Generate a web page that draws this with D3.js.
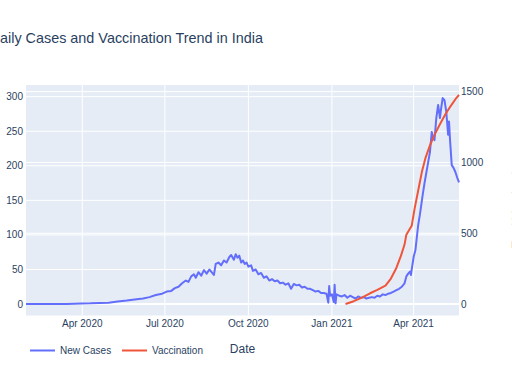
<!DOCTYPE html>
<html>
<head>
<meta charset="utf-8">
<script src="https://cdn.jsdelivr.net/npm/d3@7"></script>
<style>
  body { margin: 0; background: #fff; }
  text { font-family: "Liberation Sans", Arial, sans-serif; fill: #2a3f5f; }
</style>
</head>
<body>
<svg id="chart" width="512" height="384"></svg>
<script>
// new cases
var caseDates = ["2020-01-30","2020-02-15","2020-03-01","2020-03-15","2020-03-31","2020-04-10","2020-04-20","2020-04-30",
  "2020-05-10","2020-05-20","2020-05-31","2020-06-07","2020-06-14","2020-06-21","2020-06-28","2020-07-03","2020-07-08",
  "2020-07-12","2020-07-16","2020-07-20","2020-07-24","2020-07-27","2020-07-30","2020-08-02","2020-08-04","2020-08-07",
  "2020-08-10","2020-08-13","2020-08-16","2020-08-19","2020-08-21","2020-08-24","2020-08-26","2020-08-29","2020-09-01",
  "2020-09-04","2020-09-07","2020-09-10","2020-09-12","2020-09-15","2020-09-17","2020-09-19","2020-09-21","2020-09-23",
  "2020-09-25","2020-09-27","2020-09-29","2020-10-01","2020-10-04","2020-10-06","2020-10-09","2020-10-12","2020-10-15",
  "2020-10-18","2020-10-21","2020-10-24","2020-10-27","2020-10-30","2020-11-02","2020-11-05","2020-11-08","2020-11-11",
  "2020-11-14","2020-11-17","2020-11-20","2020-11-23","2020-11-26","2020-11-29","2020-12-02","2020-12-05","2020-12-08",
  "2020-12-11","2020-12-14","2020-12-17","2020-12-20","2020-12-23","2020-12-26","2020-12-28","2020-12-29","2020-12-30",
  "2021-01-01","2021-01-03","2021-01-04","2021-01-05","2021-01-06","2021-01-09","2021-01-12","2021-01-15","2021-01-18",
  "2021-01-21","2021-01-24","2021-01-27","2021-01-30","2021-02-02","2021-02-05","2021-02-08","2021-02-11","2021-02-14",
  "2021-02-17","2021-02-20","2021-02-23","2021-02-26","2021-03-01","2021-03-04","2021-03-07","2021-03-10","2021-03-13",
  "2021-03-16","2021-03-19","2021-03-22","2021-03-24","2021-03-26","2021-03-28","2021-03-29","2021-04-01","2021-04-03",
  "2021-04-06","2021-04-08","2021-04-11","2021-04-13","2021-04-15","2021-04-17","2021-04-19","2021-04-21","2021-04-22",
  "2021-04-24","2021-04-26","2021-04-28","2021-04-30","2021-05-01","2021-05-03","2021-05-05","2021-05-07","2021-05-09",
  "2021-05-10","2021-05-11","2021-05-13","2021-05-15","2021-05-17","2021-05-19","2021-05-21"];
var caseValues = [0,0,0,0.1,0.8,1,1.5,2,
  3.5,5,7,8,10,13,15,18,19,
  23,25,30,34,32,40,43,38,46,
  41,49,44,50,47,42,58,60,56,
  63,60,68,71,64,72,67,70,60,
  63,58,60,54,56,48,50,43,45,
  38,40,34,36,33,34,30,31,28,
  30,22,29,27,28,24,25,22,22,
  20,18,19,16,16,15,2,26,12,
  14,3,28,1,14,12,11,13,9,
  12,10,8,11,9,10,8,9,10,
  9,12,11,14,13,15,16,18,20,
  22,25,30,40,44,47,42,68,78,
  114,130,158,175,190,205,220,249,243,
  237,269,288,269,280,298,295,278,245,
  264,240,201,197,191,183,176];

// vaccination
var vaccDates = ["2021-01-16","2021-01-25","2021-02-03","2021-02-12","2021-02-20","2021-03-01","2021-03-07","2021-03-13",
  "2021-03-18","2021-03-22","2021-03-24","2021-03-30","2021-04-02","2021-04-06","2021-04-10","2021-04-14","2021-04-19",
  "2021-04-24","2021-04-30","2021-05-06","2021-05-12","2021-05-18","2021-05-21"];
var vaccValues = [0,20,45,76,100,130,180,255,
  340,420,490,555,670,800,930,1030,1120,
  1195,1270,1340,1400,1455,1478];

var leftTicks = [0,50,100,150,200,250,300];
var rightTicks = [0,500,1000,1500];

var parse = d3.timeParse("%Y-%m-%d");
var cases = caseDates.map(function(d, i) { return {date: parse(d), value: caseValues[i]}; });
var vacc = vaccDates.map(function(d, i) { return {date: parse(d), value: vaccValues[i]}; });

var svg = d3.select("#chart");
var m = {left: 26, right: 459, top: 85, bottom: 315.5};

var x = d3.scaleTime()
    .domain(d3.extent(cases.concat(vacc), function(d) { return d.date; }))
    .range([m.left, m.right]);
var y = d3.scaleLinear().domain([-16.6, 316.9]).range([m.bottom, m.top]);
var y2 = d3.scaleLinear().domain([-81, 1547]).range([m.bottom, m.top]);

svg.append("rect")
    .attr("x", m.left).attr("y", m.top)
    .attr("width", m.right - m.left).attr("height", m.bottom - m.top)
    .attr("fill", "#E5ECF6");

// grid lines
var xTicks = x.ticks(d3.timeMonth.every(3));
svg.append("g").selectAll("line").data(xTicks).join("line")
    .attr("x1", function(d) { return x(d); }).attr("x2", function(d) { return x(d); })
    .attr("y1", m.top).attr("y2", m.bottom)
    .attr("stroke", "#fff").attr("stroke-width", 1);
svg.append("g").selectAll("line").data(rightTicks.filter(function(d) { return d != 0; })).join("line")
    .attr("x1", m.left).attr("x2", m.right)
    .attr("y1", function(d) { return y2(d); }).attr("y2", function(d) { return y2(d); })
    .attr("stroke", "#fff").attr("stroke-width", 1);
svg.append("g").selectAll("line").data(leftTicks).join("line")
    .attr("x1", m.left).attr("x2", m.right)
    .attr("y1", function(d) { return y(d); }).attr("y2", function(d) { return y(d); })
    .attr("stroke", "#fff").attr("stroke-width", function(d) { return d == 0 ? 2 : 1; });

// tick labels
svg.append("g").selectAll("text").data(leftTicks).join("text")
    .attr("x", m.left - 3).attr("y", function(d) { return y(d); })
    .attr("dy", "0.35em").attr("text-anchor", "end")
    .attr("font-size", 10).text(function(d) { return d; });
svg.append("g").selectAll("text").data(rightTicks).join("text")
    .attr("x", m.right + 2).attr("y", function(d) { return y2(d); })
    .attr("dy", "0.35em").attr("text-anchor", "start")
    .attr("font-size", 10).text(function(d) { return d; });
svg.append("g").selectAll("text").data(xTicks).join("text")
    .attr("x", function(d) { return x(d); }).attr("y", 327)
    .attr("text-anchor", "middle")
    .attr("font-size", 10).text(d3.timeFormat("%b %Y"));

// lines
var caseLine = d3.line().x(function(d) { return x(d.date); }).y(function(d) { return y(d.value); });
var vaccLine = d3.line().x(function(d) { return x(d.date); }).y(function(d) { return y2(d.value); });
svg.append("path").datum(cases)
    .attr("d", caseLine).attr("fill", "none")
    .attr("stroke", "#636efa").attr("stroke-width", 2).attr("stroke-linejoin", "round");
svg.append("path").datum(vacc)
    .attr("d", vaccLine).attr("fill", "none")
    .attr("stroke", "#EF553B").attr("stroke-width", 2).attr("stroke-linejoin", "round");

// title, partly off the left edge like the picture
var title = svg.append("text")
    .attr("y", 42.5).attr("font-size", 14.4)
    .text("Daily Cases and Vaccination Trend in India");
var probe = svg.append("text").attr("font-size", 14.4).text("D");
var dw = probe.node().getComputedTextLength();
probe.remove();
title.attr("x", -dw);

// axis titles
svg.append("text")
    .attr("x", (m.left + m.right) / 2).attr("y", 353)
    .attr("text-anchor", "middle").attr("font-size", 12)
    .text("Date");
svg.append("text")
    .attr("transform", "translate(521," + ((m.top + m.bottom) / 2) + ") rotate(-90)")
    .attr("text-anchor", "middle").attr("font-size", 12)
    .text("Total Vaccinations");

// legend
var legend = [{name: "New Cases", color: "#636efa", x: 30}, {name: "Vaccination", color: "#EF553B", x: 122}];
var lg = svg.append("g").selectAll("g").data(legend).join("g")
    .attr("transform", function(d) { return "translate(" + d.x + ",350.5)"; });
lg.append("line").attr("x1", 0).attr("x2", 25)
    .attr("stroke", function(d) { return d.color; }).attr("stroke-width", 2);
lg.append("text").attr("x", 30).attr("dy", "0.35em")
    .attr("font-size", 10).text(function(d) { return d.name; });
</script>
</body>
</html>
